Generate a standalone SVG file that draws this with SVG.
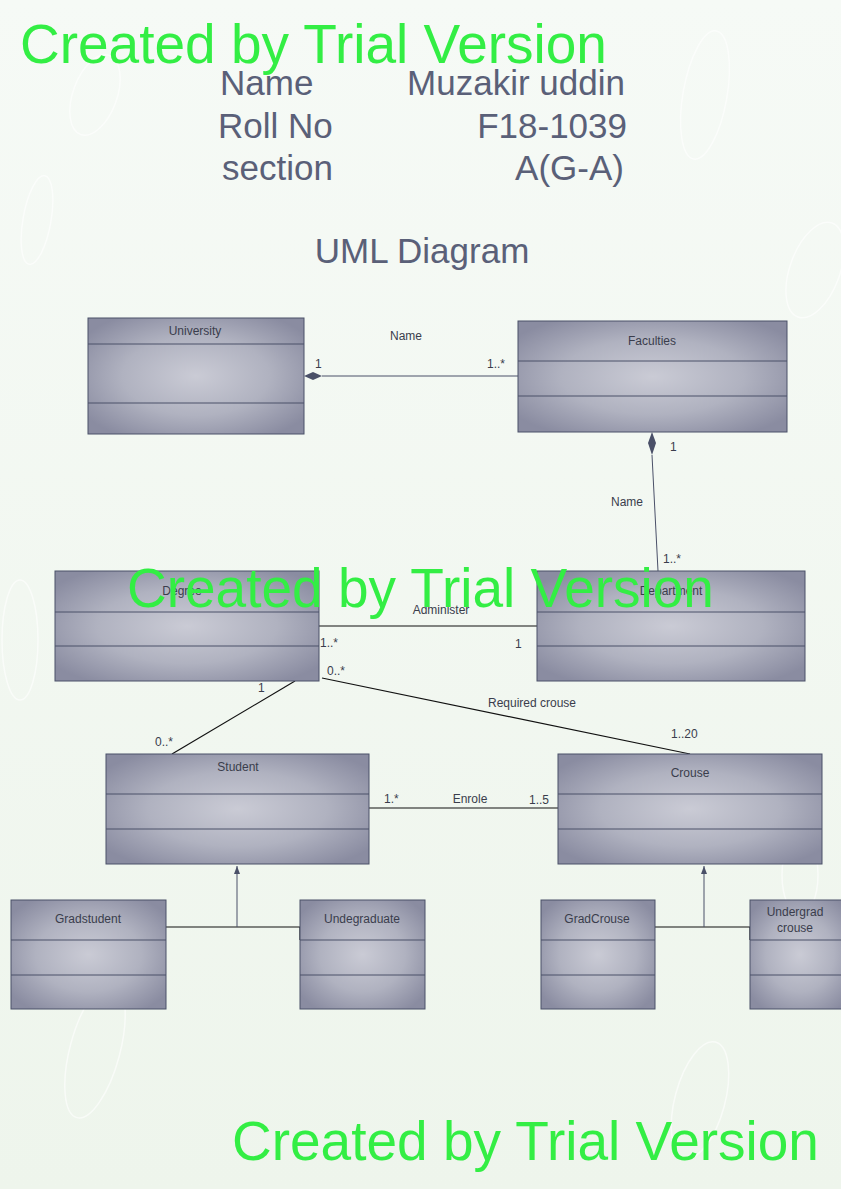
<svg xmlns="http://www.w3.org/2000/svg" width="841" height="1189" viewBox="0 0 841 1189">
<defs>
<linearGradient id="bg" x1="0" y1="0" x2="0" y2="1">
<stop offset="0" stop-color="#f6faf6"/>
<stop offset="1" stop-color="#eef5ec"/>
</linearGradient>
<radialGradient id="box" cx="0.5" cy="0.5" r="0.62">
<stop offset="0" stop-color="#cacbd5"/>
<stop offset="0.55" stop-color="#b0b2c0"/>
<stop offset="1" stop-color="#8a8ca1"/>
</radialGradient>
<marker id="tri" markerWidth="8" markerHeight="10" refX="8" refY="4" orient="auto" markerUnits="userSpaceOnUse">
<path d="M0,1 L8,4 L0,7 Z" fill="#4a5068"/>
</marker>
<style>
.cls rect{fill:url(#box);stroke:#4a5068;stroke-width:1}
.cls line{stroke:#4a5068;stroke-width:1}
.cn{font-family:"Liberation Sans",Arial,sans-serif;font-size:12px;fill:#3a3d4c;text-anchor:middle}
.lbl{font-family:"Liberation Sans",Arial,sans-serif;font-size:12px;fill:#3a3d4c}
.hdr{font-family:"Liberation Sans",Arial,sans-serif;font-size:35px;fill:#5a6078}
.wm{font-family:"Liberation Sans",Arial,sans-serif;font-size:55px;fill:#33ee44}
.edge{stroke:#4a5068;stroke-width:1;fill:none}
.edge2{stroke:#111;stroke-width:1.2;fill:none}
.bub{fill:none;stroke:#ffffff;stroke-width:1.5;opacity:0.6}
</style>
</defs>
<rect width="841" height="1189" fill="url(#bg)"/>
<g id="bubbles">
<ellipse class="bub" cx="95" cy="95" rx="22" ry="42" transform="rotate(20 95 95)"/>
<ellipse class="bub" cx="37" cy="220" rx="14" ry="45" transform="rotate(10 37 220)"/>
<ellipse class="bub" cx="705" cy="95" rx="22" ry="65" transform="rotate(10 705 95)"/>
<ellipse class="bub" cx="815" cy="270" rx="25" ry="50" transform="rotate(20 815 270)"/>
<ellipse class="bub" cx="20" cy="640" rx="18" ry="60"/>
<ellipse class="bub" cx="95" cy="1050" rx="25" ry="70" transform="rotate(15 95 1050)"/>
<ellipse class="bub" cx="700" cy="1100" rx="25" ry="60" transform="rotate(15 700 1100)"/>
<ellipse class="bub" cx="800" cy="875" rx="18" ry="40"/>
</g>
<g id="header">
<text class="hdr" x="220" y="95">Name</text>
<text class="hdr" x="625" y="95" text-anchor="end">Muzakir uddin</text>
<text class="hdr" x="218" y="138">Roll No</text>
<text class="hdr" x="627" y="138" text-anchor="end">F18-1039</text>
<text class="hdr" x="222" y="180">section</text>
<text class="hdr" x="624" y="180" text-anchor="end">A(G-A)</text>
<text class="hdr" x="422" y="263" text-anchor="middle">UML Diagram</text>
</g>
<g id="connectors">
<line class="edge" x1="322" y1="376" x2="518" y2="376"/>
<path d="M304,376 L313,372 L322,376 L313,380 Z" fill="#4a5068"/>
<text class="lbl" x="406" y="340" text-anchor="middle">Name</text>
<text class="lbl" x="315" y="368">1</text>
<text class="lbl" x="487" y="368">1..*</text>
<line class="edge" x1="652" y1="455" x2="658" y2="571"/>
<path d="M652,432 L656,443 L652,455 L648,443 Z" fill="#4a5068"/>
<text class="lbl" x="670" y="451">1</text>
<text class="lbl" x="627" y="506" text-anchor="middle">Name</text>
<text class="lbl" x="663" y="563">1..*</text>
<line class="edge2" x1="319" y1="626" x2="537" y2="626"/>
<text class="lbl" x="441" y="614" text-anchor="middle">Administer</text>
<text class="lbl" x="320" y="647">1..*</text>
<text class="lbl" x="515" y="648">1</text>
<line class="edge2" x1="295" y1="681" x2="172" y2="754"/>
<text class="lbl" x="258" y="692">1</text>
<text class="lbl" x="155" y="746">0..*</text>
<line class="edge2" x1="322" y1="678" x2="690" y2="754"/>
<text class="lbl" x="327" y="675">0..*</text>
<text class="lbl" x="532" y="707" text-anchor="middle">Required crouse</text>
<text class="lbl" x="671" y="738">1..20</text>
<line class="edge2" x1="369" y1="808" x2="558" y2="808"/>
<text class="lbl" x="384" y="803">1.*</text>
<text class="lbl" x="470" y="803" text-anchor="middle">Enrole</text>
<text class="lbl" x="529" y="804">1..5</text>
<path class="edge2" d="M166,927 H300 V940"/>
<line class="edge" x1="237" y1="927" x2="237" y2="866" marker-end="url(#tri)"/>
<path class="edge2" d="M655,927 H750 V940"/>
<line class="edge" x1="704" y1="927" x2="704" y2="866" marker-end="url(#tri)"/>
</g>
<g id="University" class="cls">
<rect x="88" y="318" width="216" height="116"/>
<line x1="88" y1="344" x2="304" y2="344"/>
<line x1="88" y1="403" x2="304" y2="403"/>
<text class="cn" x="195" y="335">University</text>
</g>
<g id="Faculties" class="cls">
<rect x="518" y="321" width="269" height="111"/>
<line x1="518" y1="361" x2="787" y2="361"/>
<line x1="518" y1="396" x2="787" y2="396"/>
<text class="cn" x="652" y="345">Faculties</text>
</g>
<g id="Degree" class="cls">
<rect x="55" y="571" width="264" height="110"/>
<line x1="55" y1="612" x2="319" y2="612"/>
<line x1="55" y1="646" x2="319" y2="646"/>
<text class="cn" x="182" y="595">Degree</text>
</g>
<g id="Department" class="cls">
<rect x="537" y="571" width="268" height="110"/>
<line x1="537" y1="612" x2="805" y2="612"/>
<line x1="537" y1="646" x2="805" y2="646"/>
<text class="cn" x="671" y="595">Department</text>
</g>
<g id="Student" class="cls">
<rect x="106" y="754" width="263" height="110"/>
<line x1="106" y1="794" x2="369" y2="794"/>
<line x1="106" y1="829" x2="369" y2="829"/>
<text class="cn" x="238" y="771">Student</text>
</g>
<g id="Crouse" class="cls">
<rect x="558" y="754" width="264" height="110"/>
<line x1="558" y1="794" x2="822" y2="794"/>
<line x1="558" y1="829" x2="822" y2="829"/>
<text class="cn" x="690" y="777">Crouse</text>
</g>
<g id="Gradstudent" class="cls">
<rect x="11" y="900" width="155" height="109"/>
<line x1="11" y1="940" x2="166" y2="940"/>
<line x1="11" y1="975" x2="166" y2="975"/>
<text class="cn" x="88" y="923">Gradstudent</text>
</g>
<g id="Undegraduate" class="cls">
<rect x="300" y="900" width="125" height="109"/>
<line x1="300" y1="940" x2="425" y2="940"/>
<line x1="300" y1="975" x2="425" y2="975"/>
<text class="cn" x="362" y="923">Undegraduate</text>
</g>
<g id="GradCrouse" class="cls">
<rect x="541" y="900" width="114" height="109"/>
<line x1="541" y1="940" x2="655" y2="940"/>
<line x1="541" y1="975" x2="655" y2="975"/>
<text class="cn" x="597" y="923">GradCrouse</text>
</g>
<g id="UndergradCrouse" class="cls">
<rect x="750" y="900" width="100" height="109"/>
<line x1="750" y1="940" x2="850" y2="940"/>
<line x1="750" y1="975" x2="850" y2="975"/>
<text class="cn" x="795" y="916">Undergrad</text>
<text class="cn" x="795" y="932">crouse</text>
</g>
<g id="watermarks">
<text class="wm" x="20" y="63">Created by Trial Version</text>
<text class="wm" x="127" y="607">Created by Trial Version</text>
<text class="wm" x="232" y="1160">Created by Trial Version</text>
</g>
</svg>
